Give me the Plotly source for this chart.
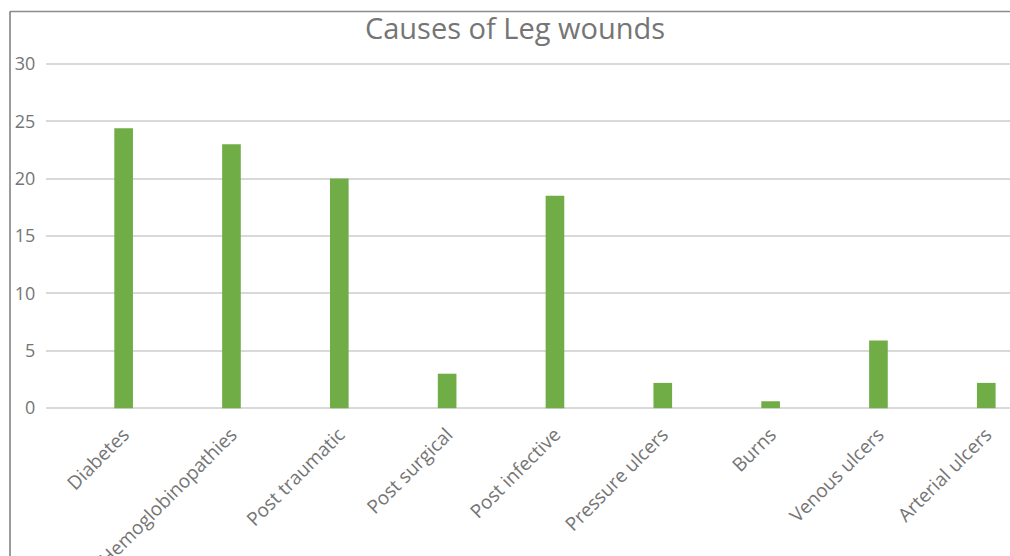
import plotly.graph_objects as go

categories = ["Diabetes", "Hemoglobinopathies", "Post traumatic", "Post surgical",
              "Post infective", "Pressure ulcers", "Burns", "Venous ulcers", "Arterial ulcers"]
values = [24.4, 23.0, 20.0, 3.0, 18.5, 2.2, 0.6, 5.9, 2.2]
y_ticks = [0, 5, 10, 15, 20, 25, 30]

W, H = 1010, 556
pad = 0.25
unit = (408 - 63.5) / 30.0
L, R = 46, 0
T = 63.5 - pad * unit
B = (H - 408) - pad * unit
pw, ph = W - L - R, H - T - B

def px_x(p):
    return (p - L) / pw

def px_y(p):
    return (H - B - p) / ph

text_col = "#757575"
font = "Open Sans"

fig = go.Figure(go.Bar(
    x=list(range(len(categories))), y=values,
    marker=dict(color="#70AD47", line=dict(width=0)),
    width=0.173,
))

fig.update_layout(
    width=W, height=H,
    margin=dict(l=L, r=R, t=T, b=B, autoexpand=False),
    paper_bgcolor="white", plot_bgcolor="white",
    showlegend=False,
    title=dict(text="Causes of Leg wounds", x=515 / W, xref="container", xanchor="center",
               y=1 - 29 / H, yref="container", yanchor="middle",
               font=dict(family=font, size=29, color=text_col)),
    xaxis=dict(
        tickmode="array", tickvals=list(range(len(categories))), ticktext=categories,
        range=[-0.72, 8.22], tickangle=-45, showgrid=False, zeroline=False,
        showline=False, ticks="outside", ticklen=4, tickcolor="rgba(0,0,0,0)",
        tickfont=dict(family=font, size=19, color=text_col),
    ),
    yaxis=dict(
        range=[-pad, 30 + pad], tickvals=y_ticks, showgrid=True, gridcolor="#d9d9d9", gridwidth=1.5,
        zeroline=False, showline=False, ticks="outside", ticklen=6, tickcolor="rgba(0,0,0,0)",
        tickfont=dict(family=font, size=18, color=text_col),
    ),
    shapes=[
        dict(type="line", xref="paper", yref="paper", x0=px_x(10), x1=px_x(1012),
             y0=px_y(11), y1=px_y(11), line=dict(color="#8c8c8c", width=1.5)),
        dict(type="line", xref="paper", yref="paper", x0=px_x(10), x1=px_x(10),
             y0=px_y(11), y1=px_y(560), line=dict(color="#595959", width=1.2)),
    ],
)

fig.write_html("out.html", config={"displayModeBar": False},
               post_script="document.body.style.margin='0';document.body.style.overflow='hidden';")
